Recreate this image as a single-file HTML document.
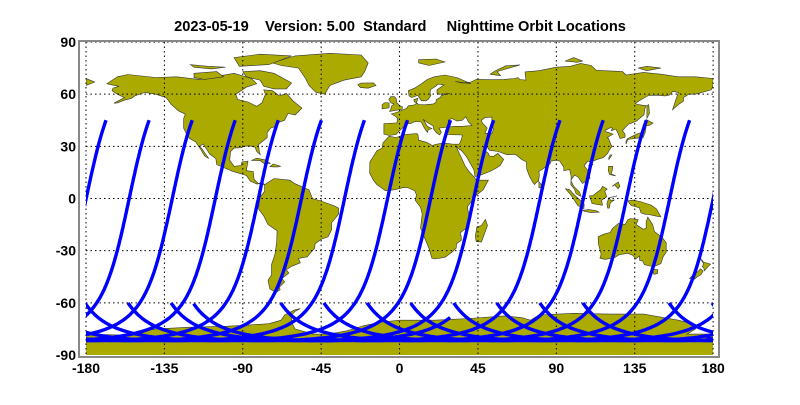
<!DOCTYPE html>
<html><head><meta charset="utf-8"><style>
body{margin:0;background:#fff;width:800px;height:400px;overflow:hidden}
svg text{font-family:"Liberation Sans",sans-serif;font-weight:bold;font-size:14px;fill:#000}
</style></head><body>
<svg id="s" width="800" height="400" viewBox="0 0 800 400" xmlns="http://www.w3.org/2000/svg">
<defs><clipPath id="c"><rect x="86" y="42" width="627" height="313"/></clipPath></defs>
<text x="400" y="31" text-anchor="middle" xml:space="preserve" style="font-size:14.6px">2023-05-19    Version: 5.00  Standard     Nighttime Orbit Locations</text>
<g id="land" clip-path="url(#c)" fill="#aaaa00" stroke="#333" stroke-width="0.6"></g>
<g id="grid" stroke="#000" stroke-width="1" stroke-dasharray="1.5,3"></g>
<g id="orb" clip-path="url(#c)" fill="none" stroke="#0000ff" stroke-width="3.4" stroke-linejoin="round"></g>
<rect x="79" y="41" width="640" height="316" fill="none" stroke="#888" stroke-width="2"/>
<g id="lab"></g>
</svg>
<script>
var X=function(l){return 86+(l+180)*1.742},Y=function(a){return 198.5-a*1.739};
var NS="http://www.w3.org/2000/svg";
function el(p,t,a,txt){var e=document.createElementNS(NS,t);for(var k in a)e.setAttribute(k,a[k]);if(txt!=null)e.textContent=txt;document.getElementById(p).appendChild(e);return e;}
function poly(pts,fill){var d="M";for(var i=0;i<pts.length;i+=2){d+=X(pts[i]).toFixed(1)+","+Y(pts[i+1]).toFixed(1)+(i+2<pts.length?"L":"Z");}var a={d:d};if(fill)a.fill=fill;el("land","path",a);}
var L=[
[-168,66,-162,70,-156,71.3,-140,69.6,-128,70,-115,68.5,-95,72,-85,69,-82,66,-88,64,-94,60,-93,57,-87,55.5,-82,53,-79,55,-77,60,-78,62.5,-73,62,-69,59,-65,60.5,-61,56,-56,52,-60,48,-64,49,-66,45,-70,43.5,-70,41.8,-74,40.5,-76,38,-76,35,-81,31,-80.5,27,-80,25.2,-82,27,-83,29.5,-86,30.3,-89,30,-91,29.2,-95,29,-97,27,-97.5,22,-95,18.5,-91,19,-90.5,21,-87,21.5,-88,16,-84,15.5,-83.5,11,-81,8.5,-77.5,8,-79,9.5,-81.7,8.2,-85.7,10,-88,13.2,-92,14.5,-96,15.7,-105,19.5,-105.5,23,-109,25.6,-112.7,31.4,-114.5,30,-109.5,23,-112,24.5,-114,28,-117,32.5,-120.5,34.5,-122.5,37.5,-124,40.5,-124,46,-123,48.5,-127,50.5,-131,54,-134,58,-140,60,-146,61,-152,59,-154,57.5,-158,56.5,-162,55,-164,54.8,-158,58,-162,60,-165,62,-164.5,63.5,-161,64.5,-166,65.5],
[-73,78,-60,82,-40,83.5,-22,82.5,-18,78,-20,73,-22,70,-32,68,-40,65,-43,60,-48,61,-52,65,-54,69,-58,75,-68,76.5],
[-80,73.5,-72,72,-62,66.5,-65,63,-72,63,-78,64.5,-80,68,-88,70,-90,73],
[-118,72,-105,73,-101,70,-112,68.5,-118,69.5],
[-92,76,-75,77,-62,82,-80,83,-95,81],
[-110,76,-100,75.5,-108,74.5,-118,75.5,-120,77],
[-77.5,8,-72,11.5,-63,10.5,-60,8.5,-52,5,-50,0,-45,-1.5,-38,-4,-35,-5.5,-35,-9,-39,-14,-39,-18,-41,-22,-45,-23.5,-48.5,-26,-48.7,-28.5,-53,-33.5,-58,-34.5,-57,-37,-62,-39,-65,-41,-63.5,-42.8,-67.5,-46,-66,-48,-69,-51,-68.5,-52.5,-71,-54,-74.5,-52,-75.5,-47,-73.5,-44,-73.5,-38,-71.5,-32,-70.5,-25,-70.3,-18.5,-75.5,-15,-78,-10,-81,-6,-80.5,-2,-80,1,-77.5,4],
[-9,43,-9,37,-6,36.2,-2,36.8,0,39,3.3,42,3,43.3,6,43,9,44.3,12.5,44,14,41,16,38,16.5,39.5,18.5,40.2,16,41.5,13.5,45.6,15.5,44,19.5,41.5,19.5,40,21,38,23,36.5,24,38,22.7,40.5,26,40.8,28.5,41,27,40.4,26.3,38.8,27.2,37,30.6,36.7,36,36.5,35.8,35,34.9,32.5,34.2,31.3,32.3,31.2,30,31.3,25,32,20,31,19,30.3,15.5,32.3,11,33.5,10.5,36.8,9.8,37.3,3,36.8,-2,35.1,-6,35.8,-9.5,32,-10,29,-13,27.5,-17,21,-17.2,14.7,-15,10.5,-13,8,-8,4.4,-3,5,2,6.2,4.5,6.3,8.7,4.5,9.7,2,9,-1,12,-5,13,-9,12,-17,14.5,-23,17,-29,18.5,-34.3,20,-34.8,26,-33.8,30,-31,32.5,-28.5,32.7,-26,35.5,-24,35.3,-21.5,34.8,-19.8,39.5,-16,40.5,-10.5,39.3,-7,39,-4.6,41,-2,44,1.8,48,5,51,10.5,44,10.5,43.3,11.8,39.5,16,37.5,19,35.5,23.5,33.8,27,32.6,29.9,32.5,30.2,34.5,28,35.2,28,38.5,24,42.7,16.5,43.3,12.7,45,12.8,52,15.6,55.5,17.5,57.8,19,59.8,22.5,56.4,26,54,24.2,51.5,24.5,51,26,50,26.7,48,29.5,50,30.2,51.5,27.8,56.5,27,61.6,25.2,66.5,25.4,70,22.5,72.8,21,73,17,74.5,13,76.3,9.5,77.5,8,78.2,8.9,79.8,10.3,80.3,13.5,80,15.5,82.3,17,86.5,20,87,21.5,90,22,92,21.5,94.3,18,94.3,16,97.6,16.6,98.5,13,98.5,10,100,7,101,6,103.3,3.8,104.2,1.3,103.4,1.5,101.3,2.8,100.3,5.5,98.3,8,98.4,10.7,100,12.8,100.5,13.5,102.6,12.2,105,8.6,106.6,9.6,109.3,11.7,108.5,15.5,106,18.8,108,21.5,110,21,113,22.3,117,23.5,119.5,26,120.5,28,122,30,121.3,31,120,34.5,119.2,35,122.5,37,120.5,37.8,118,38.5,118,39.2,121,40.7,122.3,40.5,121.5,39,124.2,39.9,125.3,37.7,126.6,34.5,129.4,35.2,129.5,37,128,39,129.7,41,131.5,42.7,136,44.5,140.3,48.2,140.8,51.5,141.5,53.3,137,54,135.2,54.7,139,57.1,143,59.3,148,59.4,152.3,59,155,59.5,156.8,61.6,160,61,156.7,51,160,54,163,56,163,58,166,60,170,60,179,62.5,180,65,180,69,170,70,160,70,150,71.5,140,72.5,130,71,128,73,113,73.7,110,76.5,104,77.7,98,76,90,75.5,80,73.5,72,72.8,72.5,68,69,68.5,68,69.5,66,69,60,68.5,55,68.3,44,68.5,41,67,36,66.5,32,67.2,41,66,33,69.5,26,71,20,70,16,68.5,12.5,65.9,8.5,63.4,5,62,5.5,59,7,58,10.5,59.3,12.5,56.3,15,56.1,16.5,57,18,59.3,17.5,61,17.9,62.7,21,64.7,22,65.8,25.5,65.3,21.5,62.5,21.5,60.7,23,59.8,28.8,60.5,24,59.3,23.5,58.2,21,56.8,21,55.3,19.5,54.4,14.3,53.9,11,54,10,54.9,8.6,55.5,8.2,56.9,10.5,57.7,9.5,54.5,8.6,53.8,5,53.3,4,51.8,1.6,50.9,-1.5,49.5,-4.7,48.6,-2,47,-1.2,46,-1.5,43.5],
[-180,65,-175,67,-180,69],
[-5.7,50,1.4,51.3,1.7,52.7,0,53.5,-1.5,55,-2,57.5,-3,58.6,-5,58.6,-6.2,57,-5,55,-3,54.3,-4.5,53.3,-5,51.6],
[-10,51.6,-6,52.1,-6,54.9,-8.3,55.2,-10,54],
[-24,65.5,-22,66.4,-15,66.5,-13.5,65,-18,63.4,-22.5,63.8],
[49.3,-12,50.5,-15.5,47,-25,44,-24.8,43.5,-21.7,44.4,-16.3,47,-15.5],
[80,9.8,81.8,7.5,81.2,6.1,80,6.2],
[130,31.3,131,33.9,135,34.5,139.8,35,141,38,141.5,41.4,140,40.5,139,38,136.8,37.3,133,35.5,130.8,34.4,130,33],
[140,41.5,141.6,45.4,145.5,43.3,143.3,42],
[142,46,143.5,49,143,54,142,53.5,142,49],
[120.2,22.5,121.9,25,121,25.1,120.1,23.5],
[108.6,19,110.5,20,111,19.6,109.5,18.2],
[120,18.5,122.3,18.5,122.2,16.5,121.5,14.2,124,13,120.6,13.8,119.8,16],
[122,7,125.5,9.5,126.5,7,125.4,5.6,123.5,7.8],
[109,1.5,110.5,-2.9,114,-3.5,116.5,-3.9,116,-1,118.9,1,117.8,4.2,119.2,5.4,116.5,7,115.4,5,113,3.2,111,1.7],
[95.3,5.6,97.5,5.2,100.3,2,104,-1.2,106,-3.2,105.8,-5.8,102.3,-4,98.6,1.7],
[105.2,-6.8,108.5,-6.4,112.6,-6.9,114.5,-7.8,110,-8.1,106,-7.4],
[119.4,-5.5,120.4,-5.5,121,-2.5,123.3,-0.9,121,-1,120.5,0.5,124.8,1.5,120.1,0.4,119,-3],
[131,-1.3,134,-0.9,138,-1.7,144.5,-3.8,147.5,-6,150,-10.6,147.5,-10.2,143,-9.2,141,-9.1,138.6,-8.3,137.6,-5.3,133,-4,132,-2.8],
[114,-22,114.2,-26.3,115.7,-32,115,-34.3,118,-35,123.5,-34,126,-32.3,131,-31.5,134,-32.8,135.6,-34.8,137.7,-33,137.8,-35.6,139.6,-36,140.6,-38,143.5,-38.8,146.3,-39,150,-37.5,151.3,-33.5,153,-31,153.1,-25.5,150.8,-22.5,146.3,-19,145.3,-15,142.5,-10.7,141.5,-13.5,141.6,-17,140,-17.7,135.8,-15,137,-12.2,132.6,-11.5,131,-12.2,129.5,-14.9,125.7,-14.3,122.2,-17.2,121,-19.5,117,-20.6],
[144.7,-40.7,148.3,-40.9,148,-43.2,146,-43.6],
[172.7,-34.5,174.5,-36.5,178.5,-37.7,177,-39.3,175,-41.5,174.6,-39.8,173.8,-39.2,174.5,-37.5],
[172.7,-40.5,174.3,-41.7,173,-43.8,171,-45,169,-46.6,166.5,-46,168.4,-44,171.5,-41.8],
[52,71.5,58,70.6,56,73,69,76.8,61,76.3,55,73.5],
[11,78,17,76.5,26,78.5,21,80.2,11,79.8],
[95,79,102,78.3,105,79,100,81],
[137,75,142,73.5,150,75,142,76],
[-85,21.9,-82,23.2,-77,22.2,-74.2,20.2,-77.5,19.9,-80,21.8],
[-74.4,18.4,-72.5,19.9,-68.4,18.6,-70,18.2,-72.5,18.2],
[-180,-78,-160,-78.5,-150,-77,-140,-75,-120,-74,-100,-73.5,-90,-73,-75,-72,-68,-70,-66,-67,-60,-64,-57,-63.3,-60,-65,-62,-67,-62,-71,-60,-75,-50,-78,-40,-78,-30,-76,-20,-73,-10,-71,0,-70,20,-70,40,-69,60,-67.5,70,-68.5,75,-70,80,-67,100,-66,120,-66.5,140,-66.5,160,-70,168,-72,170,-75,165,-78,180,-78,182,-92,-182,-92]
];
L.forEach(function(p){poly(p);});
poly([47,45,49,46.5,53,46.8,53,42,54,40,53,37.5,49,37.5,50.3,40.5,49.2,41.7,47.5,43.5],"#fff");
poly([28,41.5,28,45,30,46,33,44.5,36,45,38,47,39.5,44,41.5,42,36,41.5,32,41.5,29,41.2],"#fff");
for(var lo=-135;lo<=180;lo+=45){el("grid","line",{x1:X(lo),x2:X(lo),y1:42,y2:355});}
for(var la=-60;la<=90;la+=30){el("grid","line",{x1:86,x2:713,y1:Y(la),y2:Y(la)});}
el("grid","line",{x1:86,x2:86,y1:42,y2:355});
[90,60,30,0,-30,-60,-90].forEach(function(v){el("lab","text",{x:76,y:Y(v)+5,"text-anchor":"end"},String(v));});
[-180,-135,-90,-45,0,45,90,135,180].forEach(function(v){el("lab","text",{x:X(v),y:373,"text-anchor":"middle"},String(v));});
var inc=98.2*Math.PI/180,r=Math.PI/180,ER=98.8/1436;
function track(Leq,u0,u1){
 var pts=[],prev=null,off=0;
 for(var u=u0;u<=u1+1e-9;u+=0.5){
  var ur=u*r,lat=Math.asin(Math.sin(inc)*Math.sin(ur))/r;
  var lam=Math.atan2(Math.cos(inc)*Math.sin(ur),Math.cos(ur))/r;
  if(prev!==null){var d=lam+off-prev;if(d>180)off-=360;else if(d<-180)off+=360;}
  lam+=off;prev=lam;
  pts.push([lam,lat]);
 }
 var idx=Math.round((180-u0)/0.5);var shift=0;
 if(idx>=0&&idx<pts.length)shift=pts[idx][0]-180;
 var out=pts.map(function(p,i){var u=u0+i*0.5;return [Leq+(p[0]-shift-180)-(u-180)*ER,p[1]];});
 for(var k=-1;k<=1;k++){
  var d="";out.forEach(function(p,i){d+=(i?"L":"M")+X(p[0]+360*k).toFixed(1)+","+Y(p[1]).toFixed(1);});
  el("orb","path",{d:d});
 }
}
var uTop=180-Math.asin(Math.sin(45*r)/Math.sin(inc))/r;
var uEnd=360-Math.asin(Math.sin(60*r)/Math.sin(inc))/r;
var tracks=[];
for(var k=0;k<10;k++)tracks.push([-179.9+24.72*k,k!=5]);
[80.7,105.5,130.3,155.1].forEach(function(e,i){tracks.push([e,i!=0]);});
tracks.forEach(function(t){track(t[0],uTop,t[1]?uEnd:275);});
track(55.2+(-118.6-(55.2-173.8)),250,uEnd);
</script>
</body></html>
